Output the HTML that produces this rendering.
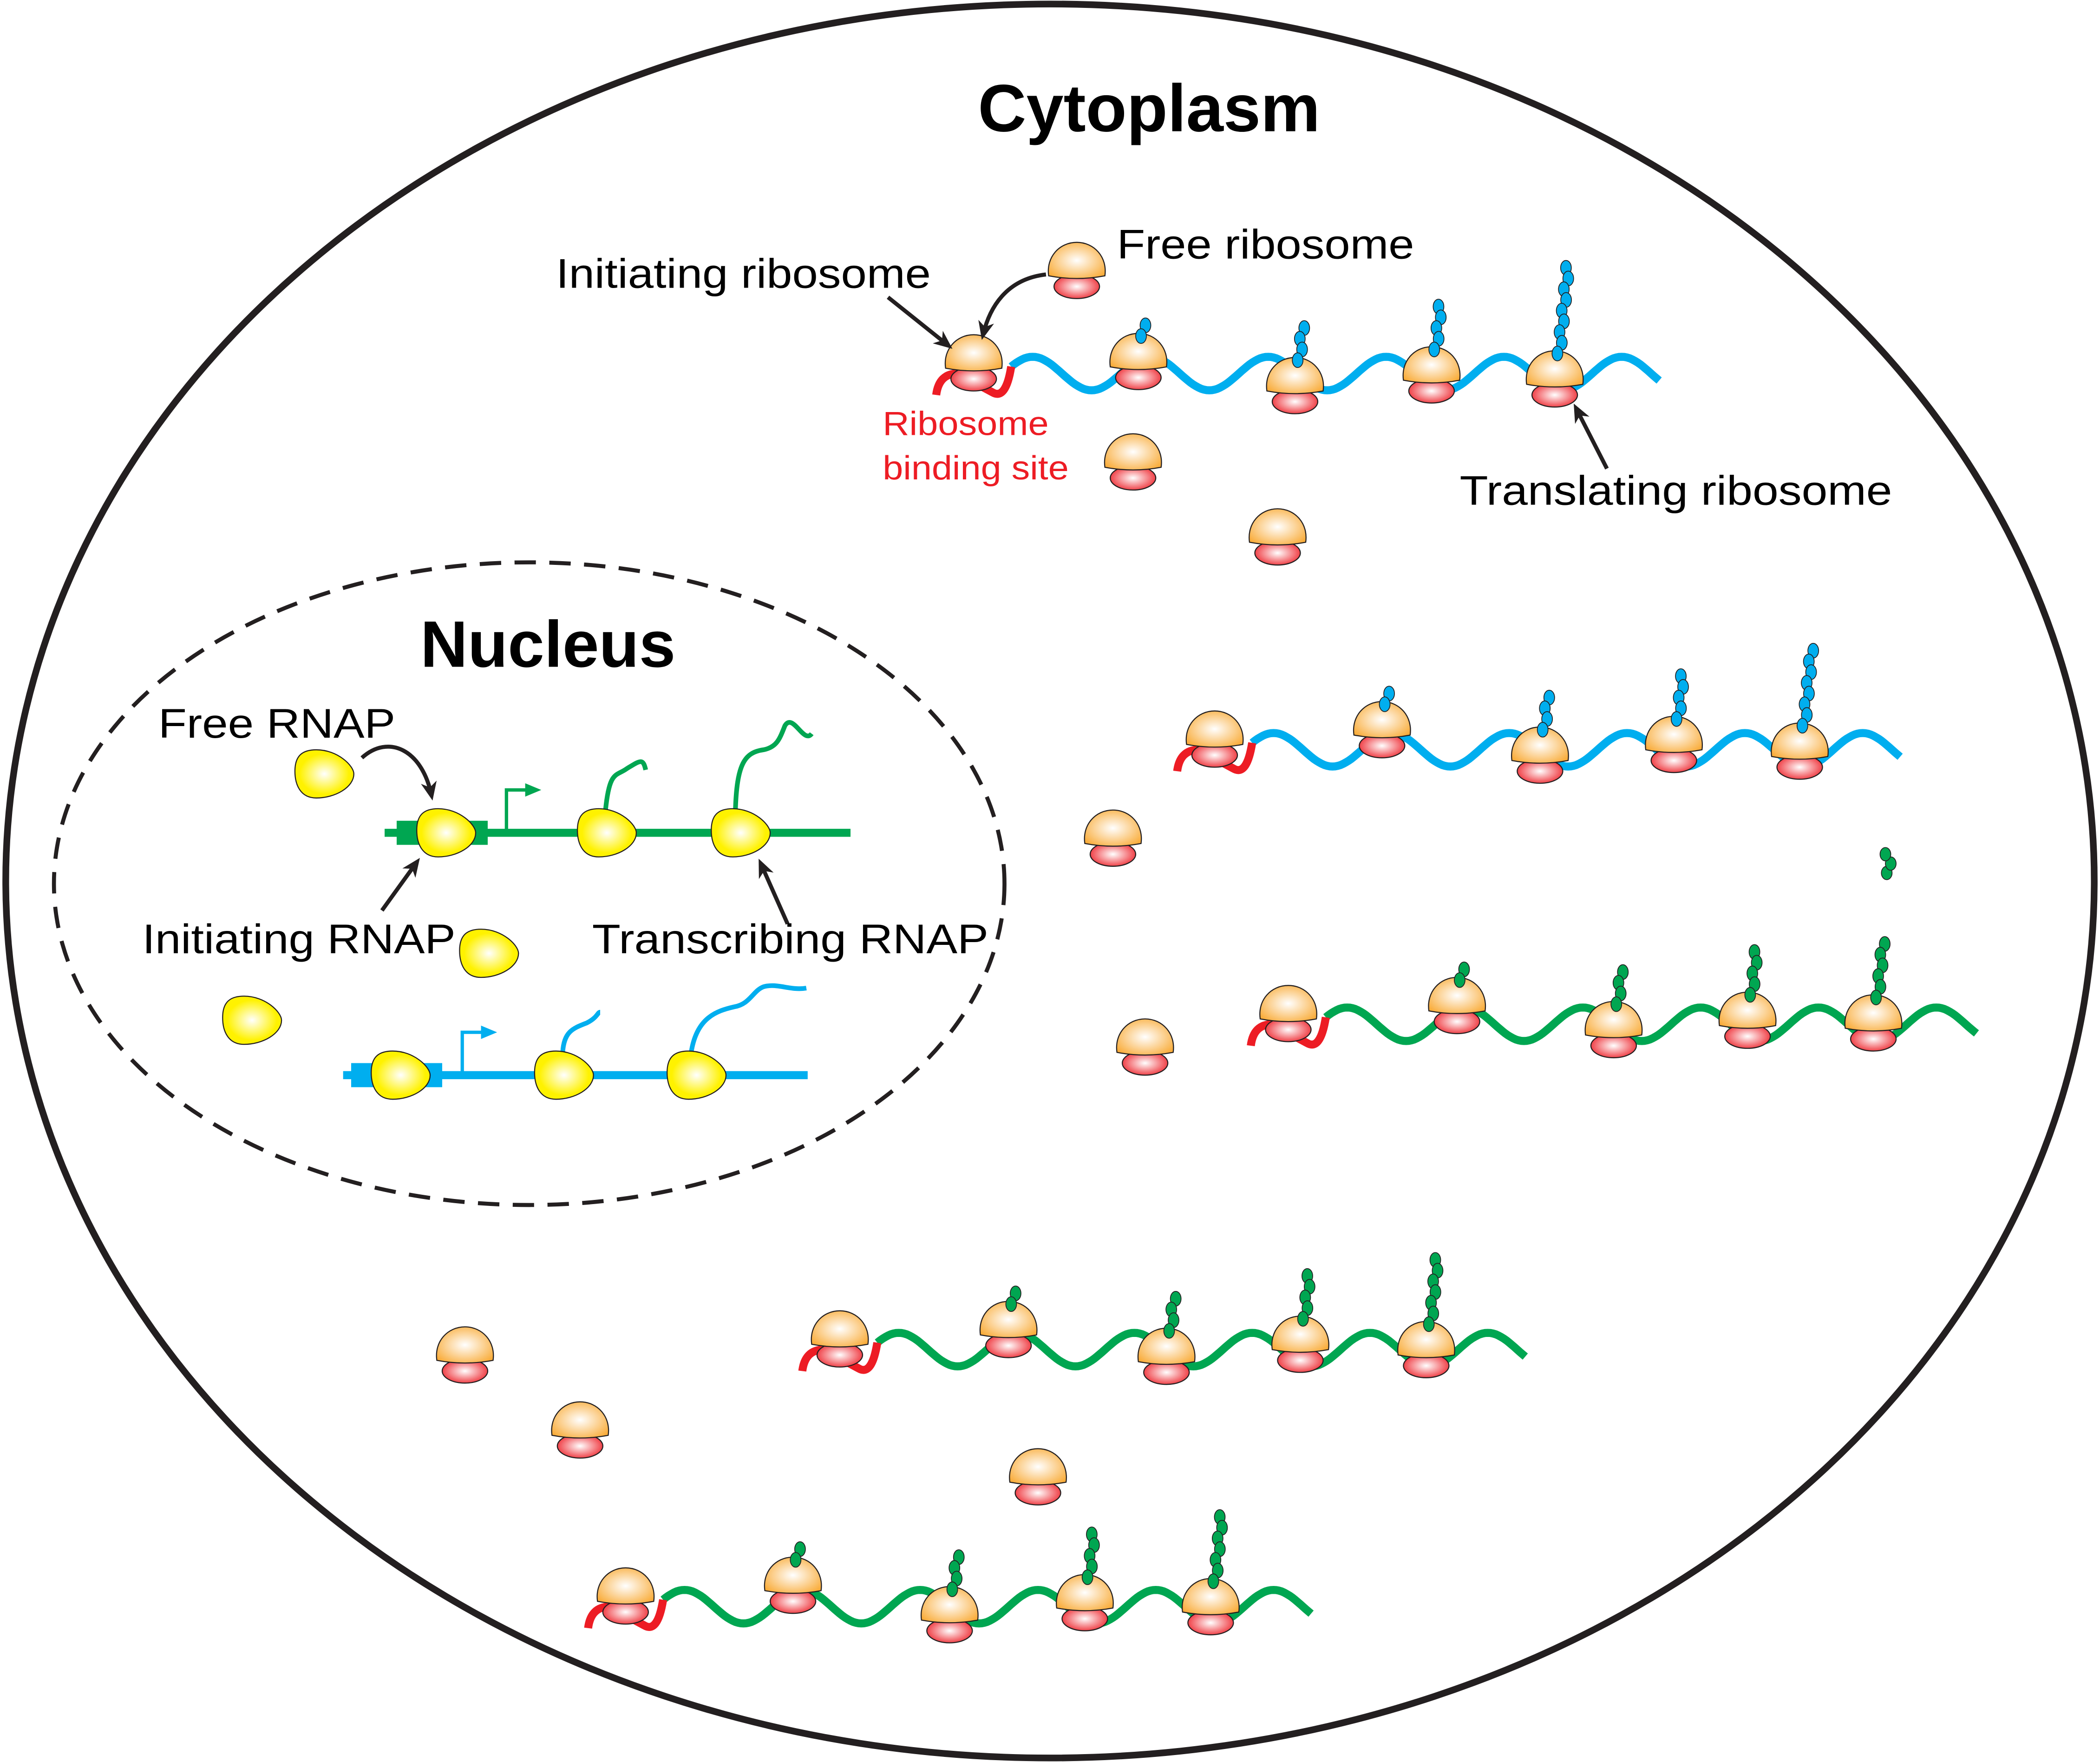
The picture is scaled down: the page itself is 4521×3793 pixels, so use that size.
<!DOCTYPE html>
<html><head><meta charset="utf-8"><style>
html,body{margin:0;padding:0;background:#fff;}
svg{display:block;}
text{font-family:"Liberation Sans",Arial,sans-serif;}
</style></head><body>
<svg id="s" width="4521" height="3793" viewBox="0 0 1568 1316" xmlns="http://www.w3.org/2000/svg">
<defs>
<radialGradient id="go" cx="50%" cy="50%" r="60%"><stop offset="0" stop-color="#fff"/><stop offset="1" stop-color="#f9ad3c"/></radialGradient>
<radialGradient id="gr" cx="50%" cy="50%" r="60%"><stop offset="0" stop-color="#fff"/><stop offset="1" stop-color="#ed1c24"/></radialGradient>
<radialGradient id="gy" cx="50%" cy="50%" r="60%"><stop offset="0" stop-color="#fff"/><stop offset="0.7" stop-color="#fff200"/></radialGradient>
<marker id="ahg" markerWidth="12" markerHeight="12" refX="8" refY="6" orient="auto" markerUnits="userSpaceOnUse"><path d="M0,1 L12,6 L0,11 Z" fill="#00a651"/></marker>
<marker id="ahb" markerWidth="12" markerHeight="12" refX="8" refY="6" orient="auto" markerUnits="userSpaceOnUse"><path d="M0,1 L12,6 L0,11 Z" fill="#00aeef"/></marker>
<marker id="ahk" markerWidth="16" markerHeight="16" refX="10" refY="8" orient="auto" markerUnits="userSpaceOnUse"><path d="M0,2 L14,8 L0,14 L4,8Z" fill="#231f20"/></marker>
</defs>
<ellipse cx="784" cy="658" rx="780" ry="655" fill="none" stroke="#231f20" stroke-width="5"/>
<ellipse cx="395" cy="660" rx="355" ry="240" fill="none" stroke="#231f20" stroke-width="3" stroke-dasharray="16 10"/>
<g id="dyn"></g>
<text x="858" y="98" font-size="50" font-weight="bold" text-anchor="middle">Cytoplasm</text>
<text x="409" y="498" font-size="49" font-weight="bold" text-anchor="middle">Nucleus</text>
<g font-size="31" fill="#000">
<text x="415" y="215" textLength="280" lengthAdjust="spacingAndGlyphs">Initiating ribosome</text>
<text x="834" y="193" textLength="222" lengthAdjust="spacingAndGlyphs">Free ribosome</text>
<text x="1090" y="377" textLength="323" lengthAdjust="spacingAndGlyphs">Translating ribosome</text>
<text x="118" y="551" textLength="177" lengthAdjust="spacingAndGlyphs">Free RNAP</text>
<text x="106" y="712" textLength="234" lengthAdjust="spacingAndGlyphs">Initiating RNAP</text>
<text x="442" y="712" textLength="296" lengthAdjust="spacingAndGlyphs">Transcribing RNAP</text>
</g>
<g font-size="25" fill="#ed1c24">
<text x="659" y="325" textLength="124" lengthAdjust="spacingAndGlyphs">Ribosome</text>
<text x="659" y="358" textLength="139" lengthAdjust="spacingAndGlyphs">binding site</text>
</g>
</svg>
<script>
var NS="http://www.w3.org/2000/svg",G=document.getElementById("dyn");
function el(t,a){var e=document.createElementNS(NS,t);for(var k in a)e.setAttribute(k,a[k]);G.appendChild(e);return e;}
function rib(x,y){
 el("ellipse",{cx:x,cy:y+8,rx:17,ry:9,fill:"url(#gr)",stroke:"#231f20","stroke-width":0.8});
 el("path",{d:"M"+(x-21)+","+y+" C"+(x-23)+","+(y-14)+" "+(x-13)+","+(y-25)+" "+x+","+(y-25)+" C"+(x+13)+","+(y-25)+" "+(x+23)+","+(y-14)+" "+(x+21)+","+y+" Q"+x+","+(y+4)+" "+(x-21)+","+y+"Z",fill:"url(#go)",stroke:"#231f20","stroke-width":0.8});
}
function pep(x,y,n,c){
 for(var i=n-1;i>=0;i--){var dx=(i%2?2.5:0)+i*0.8;el("ellipse",{cx:x+dx,cy:y-23-i*8,rx:4,ry:5.5,fill:c,stroke:"#231f20","stroke-width":0.6});}
}
function chain(o){
 var c=o.c,A=12.5,P=88,xs=o.x0,xe=o.x1,cy=o.y;
 function wy(x){return cy-A*Math.sin(2*Math.PI*(x-xs+6)/P);}
 var d="";for(var x=xs;x<=xe;x+=2)d+=(x==xs?"M":"L")+x+","+wy(x).toFixed(1)+" ";
 el("path",{d:d,fill:"none",stroke:c,"stroke-width":6,"stroke-linecap":"butt"});
 var ix=xs-28,iy=cy+2;
 el("path",{d:"M"+(ix-28)+","+(iy+14)+" Q"+(ix-26)+","+(iy-2)+" "+(ix-12)+","+(iy-2)+" L"+(ix+14)+","+(iy+12)+" Q"+(ix+24)+","+(iy+18)+" "+(ix+28)+","+(wy(xs))+"",fill:"none",stroke:"#ed1c24","stroke-width":6});
 rib(ix,iy-6);
 o.r.forEach(function(r){var y=r[2];rib(r[0],y);pep(r[0]+2,y,r[1],c);});
}
var B="#00aeef",Gr="#00a651";
chain({c:B,x0:755,x1:1240,y:279,r:[[850,2,274],[967,4,292],[1069,5,284],[1161,9,287]]});
chain({c:B,x0:935,x1:1420,y:560,r:[[1032,2,549],[1150,4,568],[1250,5,560],[1344,8,565]]});
chain({c:Gr,x0:990,x1:1477,y:765,r:[[1088,2,755],[1205,4,773],[1305,5,766],[1399,6,768]]});
chain({c:Gr,x0:655,x1:1140,y:1008,r:[[753,2,997],[871,4,1017],[971,5,1008],[1065,7,1012]]});
chain({c:Gr,x0:495,x1:980,y:1200,r:[[592,2,1188],[709,4,1210],[810,5,1201],[904,7,1204]]});
[[804,206],[846,349],[954,405],[831,630],[855,786],[347,1016],[433,1072],[775,1107]].forEach(function(p){rib(p[0],p[1]);});
[[1409,652],[1412,645],[1408,638]].forEach(function(p){el("ellipse",{cx:p[0],cy:p[1],rx:4,ry:5,fill:Gr,stroke:"#231f20","stroke-width":0.6});});
function rnap(x,y){el("path",{d:"M"+(x-20)+","+(y-2)+" C"+(x-20)+","+(y-14)+" "+(x-14)+","+(y-18)+" "+(x-4)+","+(y-18)+" C"+(x+12)+","+(y-18)+" "+(x+24)+","+(y-6)+" "+(x+24)+","+y+" C"+(x+24)+","+(y+10)+" "+(x+10)+","+(y+18)+" "+(x-4)+","+(y+18)+" C"+(x-16)+","+(y+18)+" "+(x-20)+","+(y+8)+" "+(x-20)+","+(y-2)+"Z",fill:"url(#gy)",stroke:"#231f20","stroke-width":0.8});}
function gene(c,mk,y,x0,x1,bx,px,rs,tr){
 el("line",{x1:x0,y1:y,x2:x1,y2:y,stroke:c,"stroke-width":6});
 el("rect",{x:bx,y:y-9,width:68,height:18,fill:c});
 el("path",{d:"M"+px+","+y+" L"+px+","+(y-32)+" L"+(px+22)+","+(y-32),fill:"none",stroke:c,"stroke-width":2.5,"marker-end":"url(#"+mk+")"});
 tr.forEach(function(d){el("path",{d:d,fill:"none",stroke:c,"stroke-width":3.5});});
 rs.forEach(function(x){rnap(x,y);});
}
gene(Gr,"ahg",622,287,635,296,378,[331,451,551],["M452,605 C455,575 460,580 468,574 C478,568 480,566 482,575","M549,606 C550,570 556,562 570,560 C580,558 582,552 586,542 C592,532 600,556 606,548"]);
gene(B,"ahb",803,256,603,262,345,[297,419,518],["M420,786 C421,770 428,768 438,764 C446,760 446,756 448,756","M516,786 C520,760 535,755 548,752 C560,750 562,740 570,737 C580,734 590,740 602,738"]);
[[242,578],[365,712],[188,762]].forEach(function(p){rnap(p[0]-2,p[1]);});
function arr(d){el("path",{d:d,fill:"none",stroke:"#231f20","stroke-width":3,"marker-end":"url(#ahk)"});}
arr("M270,566 C290,548 315,560 322,594");
arr("M285,680 L311,644");
arr("M588,690 L568,645");
arr("M663,222 L708,258");
arr("M781,205 C755,208 740,225 734,250");
arr("M1200,350 L1177,305");
</script>
</body></html>
